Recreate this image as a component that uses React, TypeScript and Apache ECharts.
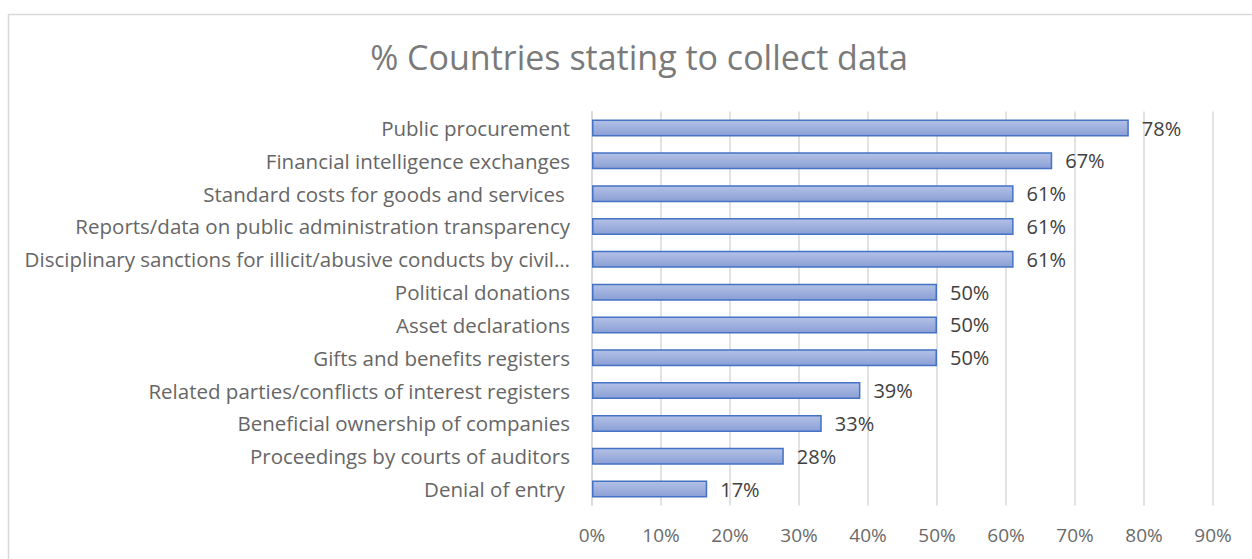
import React, { useEffect, useRef } from "react";
import * as echarts from "echarts";

const categories = [
  "Public procurement",
  "Financial intelligence exchanges",
  "Standard costs for goods and services ",
  "Reports/data on public administration transparency",
  "Disciplinary sanctions for illicit/abusive conducts by civil…",
  "Political donations",
  "Asset declarations",
  "Gifts and benefits registers",
  "Related parties/conflicts of interest registers",
  "Beneficial ownership of companies",
  "Proceedings by courts of auditors",
  "Denial of entry ",
];
const values = [77.8, 66.7, 61.1, 61.1, 61.1, 50, 50, 50, 38.9, 33.3, 27.8, 16.7];
const title = "% Countries stating to collect data";

const FONT = "'Open Sans', Lato, sans-serif";

export default function App() {
  const ref = useRef<HTMLDivElement>(null);
  useEffect(() => {
    document.body.style.margin = "0";
    const chart = echarts.init(ref.current!, null, { renderer: "svg" });
    chart.setOption({
      animation: false,
      backgroundColor: "#ffffff",
      title: {
        text: title,
        left: 634,
        top: 35,
        textAlign: "center",
        textStyle: { fontFamily: FONT, fontSize: 34, fontWeight: "normal", color: "#7a7a7a" },
      },
      graphic: [
        {
          type: "rect",
          shape: { x: 8.5, y: 14.5, width: 1260, height: 560 },
          style: { fill: "none", stroke: "#d9d9d9", lineWidth: 1.5 },
          silent: true,
        },
      ],
      grid: { left: 592, right: 39, top: 111.6, bottom: 53.5, containLabel: false },
      xAxis: {
        type: "value",
        min: 0,
        max: 90,
        interval: 10,
        axisLabel: {
          formatter: "{value}%",
          fontFamily: FONT,
          fontSize: 19,
          color: "#6a6a6a",
          margin: 20,
        },
        axisLine: { show: false },
        axisTick: { show: false },
        splitLine: { lineStyle: { color: "#d9d9d9", width: 1.5 } },
      },
      yAxis: {
        type: "category",
        data: categories,
        inverse: true,
        axisLabel: {
          fontFamily: FONT,
          fontSize: 20.5,
          color: "#666666",
          margin: 22,
        },
        axisLine: { lineStyle: { color: "#d9d9d9", width: 1.5 } },
        axisTick: { length: 6, lineStyle: { color: "#d9d9d9", width: 1.5 } },
      },
      series: [
        {
          type: "bar",
          data: values,
          barWidth: 17,
          itemStyle: {
            color: new echarts.graphic.LinearGradient(0, 0, 0, 1, [
              { offset: 0, color: "#b3c1e6" },
              { offset: 1, color: "#8a9fd5" },
            ]),
            borderColor: "#4472c4",
            borderWidth: 1.5,
          },
          label: {
            show: true,
            position: "right",
            distance: 13,
            formatter: (p: any) => Math.round(p.value) + "%",
            fontFamily: FONT,
            fontSize: 20,
            color: "#404040",
          },
        },
      ],
    });
    return () => chart.dispose();
  }, []);
  return <div ref={ref} style={{ width: 1252, height: 559 }} />;
}
